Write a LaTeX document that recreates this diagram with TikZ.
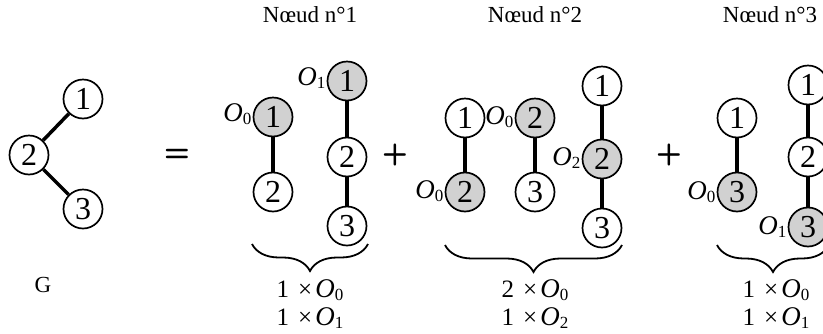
\documentclass[tikz,border=0pt]{standalone}
\usepackage{fontspec}
\setmainfont{Liberation Serif}
\usetikzlibrary{decorations.pathreplacing}
\newcommand{\Osub}[1]{{\fontsize{27}{27}\selectfont\textit{O}}\raisebox{-0.25ex}{\fontsize{17}{17}\selectfont #1}}
\newcommand{\cntline}[2]{#1\hspace{9pt}×\hspace{3pt}\Osub{#2}}
\begin{document}
\begin{tikzpicture}[x=1pt,y=-1pt,
  vtx/.style={circle,draw,line width=1.7pt,minimum size=39pt,inner sep=0pt,font=\fontsize{32}{32}\selectfont},
  gvtx/.style={vtx,fill=black!18},
  edge/.style={line width=3.5pt},
  olab/.style={font=\fontsize{24}{24}\selectfont,inner sep=0pt,anchor=east},
  ttl/.style={font=\fontsize{23}{23}\selectfont},
  cnt/.style={font=\fontsize{25}{28}\selectfont,align=center,inner sep=0pt},
  opsym/.style={font=\sffamily\bfseries\fontsize{30}{30}\selectfont},
  brc/.style={decorate,decoration={brace,amplitude=27pt,mirror,aspect=0.5},line width=1.8pt}]
\useasboundingbox (0,0) rectangle (823,333);
\clip (0,0) rectangle (823,333);
% G
\node[vtx] (g1) at (83,99) {1};
\node[vtx] (g2) at (29,155) {2};
\node[vtx] (g3) at (83,209) {3};
\draw[edge] (g1) -- (g2);
\draw[edge] (g2) -- (g3);
\node[font=\fontsize{23}{23}\selectfont] (G) at (43,285) {G};
\node[opsym] (eq) at (177,155) {=};
% Noeud 1
\node[ttl] (t1) at (310,15) {Nœud n°1};
\node[gvtx] (a1) at (273,117) {1};
\node[vtx] (a2) at (273,192) {2};
\draw[edge] (a1) -- (a2);
\node[olab] (ao) at ([shift={(-1,-3)}]a1.west) {\Osub{0}};
\node[gvtx] (b1) at (347,81) {1};
\node[vtx] (b2) at (347,157) {2};
\node[vtx] (b3) at (347,226) {3};
\draw[edge] (b1) -- (b2);
\draw[edge] (b2) -- (b3);
\node[olab] (bo) at ([shift={(-1,-3)}]b1.west) {\Osub{1}};
\coordinate (br1a) at (252,244);
\coordinate (br1b) at (368,244);
\draw[brc] (br1a) -- (br1b);
\node[cnt] (c1) at (310,304) {\cntline{1}{0}\\\cntline{1}{1}};
\node[opsym] (p1) at (395,155) {+};
% Noeud 2
\node[ttl] (t2) at (535,15) {Nœud n°2};
\node[vtx] (d1) at (465,118) {1};
\node[gvtx] (d2) at (465,192) {2};
\draw[edge] (d1) -- (d2);
\node[olab] (do) at ([shift={(-1,-1)}]d2.west) {\Osub{0}};
\node[gvtx] (e2) at (535,118) {2};
\node[vtx] (e3) at (535,192) {3};
\draw[edge] (e2) -- (e3);
\node[olab] (eo) at ([shift={(-1,-1)}]e2.west) {\Osub{0}};
\node[vtx] (f1) at (602,86) {1};
\node[gvtx] (f2) at (602,159) {2};
\node[vtx] (f3) at (602,228) {3};
\draw[edge] (f1) -- (f2);
\draw[edge] (f2) -- (f3);
\node[olab] (fo) at ([shift={(-1,-1)}]f2.west) {\Osub{2}};
\coordinate (br2a) at (445,245);
\coordinate (br2b) at (622,245);
\draw[brc] (br2a) -- (br2b);
\node[cnt] (c2) at (535,304) {\cntline{2}{0}\\\cntline{1}{2}};
\node[opsym] (p2) at (669,155) {+};
% Noeud 3
\node[ttl] (t3) at (770,15) {Nœud n°3};
\node[vtx] (h1) at (737,118) {1};
\node[gvtx] (h3) at (737,192) {3};
\draw[edge] (h1) -- (h3);
\node[olab] (ho) at ([shift={(-1,0)}]h3.west) {\Osub{0}};
\node[vtx] (k1) at (808,85) {1};
\node[vtx] (k2) at (808,157) {2};
\node[gvtx] (k3) at (808,227) {3};
\draw[edge] (k1) -- (k2);
\draw[edge] (k2) -- (k3);
\node[olab] (ko) at ([shift={(-1,0)}]k3.west) {\Osub{1}};
\coordinate (br3a) at (717,245);
\coordinate (br3b) at (829,245);
\draw[brc] (br3a) -- (br3b);
\node[cnt] (c3) at (776,304) {\cntline{1}{0}\\\cntline{1}{1}};
\end{tikzpicture}
\end{document}
